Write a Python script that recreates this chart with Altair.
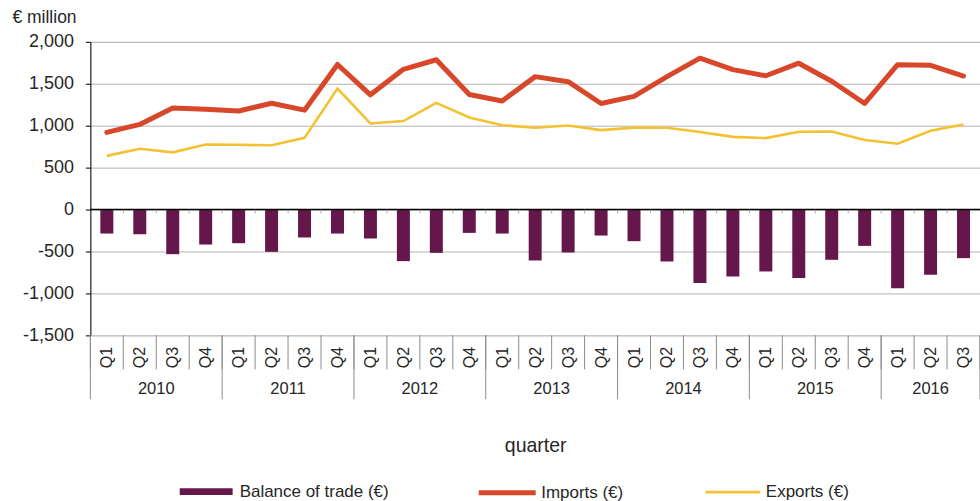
import json
import altair as alt
import pandas as pd

# ---- data ----
years = ["2010", "2011", "2012", "2013", "2014", "2015", "2016"]
quarters_per_year = [4, 4, 4, 4, 4, 4, 3]
quarter_labels = ["Q1", "Q2", "Q3", "Q4"] * 6 + ["Q1", "Q2", "Q3"]
imports = [920, 1015, 1210, 1195, 1175, 1268, 1185, 1730, 1368, 1672, 1786, 1372,
           1295, 1585, 1525, 1265, 1350, 1585, 1805, 1668, 1595, 1745, 1530, 1265,
           1728, 1720, 1592]
exports = [640, 725, 682, 776, 772, 766, 855, 1442, 1027, 1055, 1272, 1097,
           1006, 976, 1002, 947, 977, 975, 924, 867, 852, 928, 931, 830,
           785, 940, 1015]
balance = [-286, -294, -532, -417, -401, -504, -333, -286, -345, -615, -516, -278,
           -286, -607, -512, -310, -377, -619, -877, -798, -738, -817, -599, -433,
           -937, -778, -579]
y_ticks = [-1500, -1000, -500, 0, 500, 1000, 1500, 2000]

series_names = ["Balance of trade (€)", "Imports (€)", "Exports (€)"]
series_colors = ["#65174b", "#d9472b", "#f3c232"]

FONT = "Liberation Sans"
TXT = "#262626"
W, H = 891, 294
n = len(quarter_labels)

df = pd.DataFrame({
    "pos": [i + 0.5 for i in range(n)],
    "quarter": quarter_labels,
    "imports": imports,
    "exports": exports,
    "balance": balance,
    "s_bal": [series_names[0]] * n,
    "s_imp": [series_names[1]] * n,
    "s_exp": [series_names[2]] * n,
})

# year table (centres and boundaries from the quarter counts)
starts, s = [], 0
for c in quarters_per_year:
    starts.append(s)
    s += c
year_df = pd.DataFrame({
    "year": years,
    "center": [st + c / 2 for st, c in zip(starts, quarters_per_year)],
})
qsep_df = pd.DataFrame({"sep": list(range(n + 1))})
ysep_df = pd.DataFrame({"sep": starts + [n]})
zt_df = pd.DataFrame({"sep": list(range(1, n)), "zero": [0] * (n - 1)})
zero_df = pd.DataFrame({"zero": [0]})

xscale = alt.Scale(domain=[0, n], nice=False, zero=False, padding=0)
yscale = alt.Scale(domain=[y_ticks[0], y_ticks[-1]], nice=False, padding=0)

xaxis = alt.Axis(
    values=[i + 0.5 for i in range(n)],
    labelExpr=f"{json.dumps(quarter_labels)}[floor(datum.value)]",
    labelAngle=270, labelFont=FONT, labelFontSize=16, labelColor=TXT,
    labelPadding=11, labelOverlap=False, labelFlush=False,
    ticks=False, tickSize=0, domain=False, grid=False,
    title="quarter", titleFont=FONT, titleFontSize=19.5, titleFontWeight="normal",
    titleColor=TXT, titleY=110, titleBaseline="middle",
)
yaxis = alt.Axis(
    values=y_ticks,
    labelExpr="(datum.value < 0 ? '-' : '') + format(abs(datum.value), ',')",
    labelFont=FONT, labelFontSize=18, labelColor=TXT, labelPadding=12,
    tickSize=5, tickColor="black", domainColor="black", domainWidth=1,
    gridColor="#b3b3b3", gridWidth=1,
    title="€ million", titleAngle=0, titleAlign="left", titleBaseline="middle",
    titleX=-78.5, titleY=-24, titleFont=FONT, titleFontSize=17.5,
    titleFontWeight="normal", titleColor=TXT,
)


def xenc(field):
    return alt.X(field, scale=xscale, axis=xaxis)


def yenc(field):
    return alt.Y(field, scale=yscale, axis=yaxis)


def color_enc(field, idx, legend):
    return alt.Color(
        field,
        type="nominal",
        scale=alt.Scale(domain=[series_names[idx]], range=[series_colors[idx]]),
        legend=legend,
    )


def mk_legend(x, y, **kw):
    return alt.Legend(
        orient="none", legendX=x, legendY=y, title=None, padding=0,
        labelFont=FONT, labelFontSize=17, labelColor=TXT, **kw,
    )


bars = alt.Chart(df).mark_bar(size=13).encode(
    x=xenc("pos:Q"),
    y=yenc("balance:Q"),
    color=color_enc("s_bal", 0, mk_legend(89.5, 424, symbolType="M-1,-0.13H1V0.13H-1Z",
                                          symbolSize=2809, symbolStrokeWidth=0,
                                          labelOffset=7)),
)

exp_line = alt.Chart(df).mark_line(strokeWidth=2.6).encode(
    x=xenc("pos:Q"),
    y=yenc("exports:Q"),
    color=color_enc("s_exp", 2, mk_legend(614.5, 422, symbolType="stroke",
                                          symbolSize=3025, symbolStrokeWidth=2.6,
                                          labelOffset=4)),
)

imp_line = alt.Chart(df).mark_line(strokeWidth=5, strokeCap="round",
                                   strokeJoin="round").encode(
    x=xenc("pos:Q"),
    y=yenc("imports:Q"),
    color=color_enc("s_imp", 1, mk_legend(386.5, 420.5, symbolType="stroke",
                                          symbolSize=3249, symbolStrokeWidth=5,
                                          labelOffset=3)),
)

zero_rule = alt.Chart(zero_df).mark_rule(color="black", strokeWidth=1.5).encode(
    y=yenc("zero:Q"),
)

zero_ticks = alt.Chart(zt_df).mark_tick(orient="vertical", size=4, yOffset=2,
                                        thickness=1, color="#8c8c8c").encode(
    x=xenc("sep:Q"),
    y=yenc("zero:Q"),
)

q_seps = alt.Chart(qsep_df).mark_rule(color="#8c8c8c", strokeWidth=1).encode(
    x=xenc("sep:Q"),
    y=alt.value(H),
    y2=alt.value(H + 34),
)

y_seps = alt.Chart(ysep_df).mark_rule(color="#8c8c8c", strokeWidth=1).encode(
    x=xenc("sep:Q"),
    y=alt.value(H),
    y2=alt.value(H + 64),
)

year_text = alt.Chart(year_df).mark_text(
    font=FONT, fontSize=16.5, color=TXT, baseline="middle", align="center"
).encode(
    x=xenc("center:Q"),
    y=alt.value(H + 54),
    text="year:N",
)

chart = alt.layer(
    bars, zero_rule, zero_ticks, exp_line, imp_line, q_seps, y_seps, year_text
).resolve_scale(color="independent").properties(
    width=W, height=H,
    autosize=alt.AutoSizeParams(type="none"),
    padding={"left": 90.5, "top": 41.5, "right": 0, "bottom": 165.5},
    background="white",
).configure_view(stroke=None).configure(font=FONT)

chart.save("out.html", embed_options={"renderer": "svg", "actions": False})
